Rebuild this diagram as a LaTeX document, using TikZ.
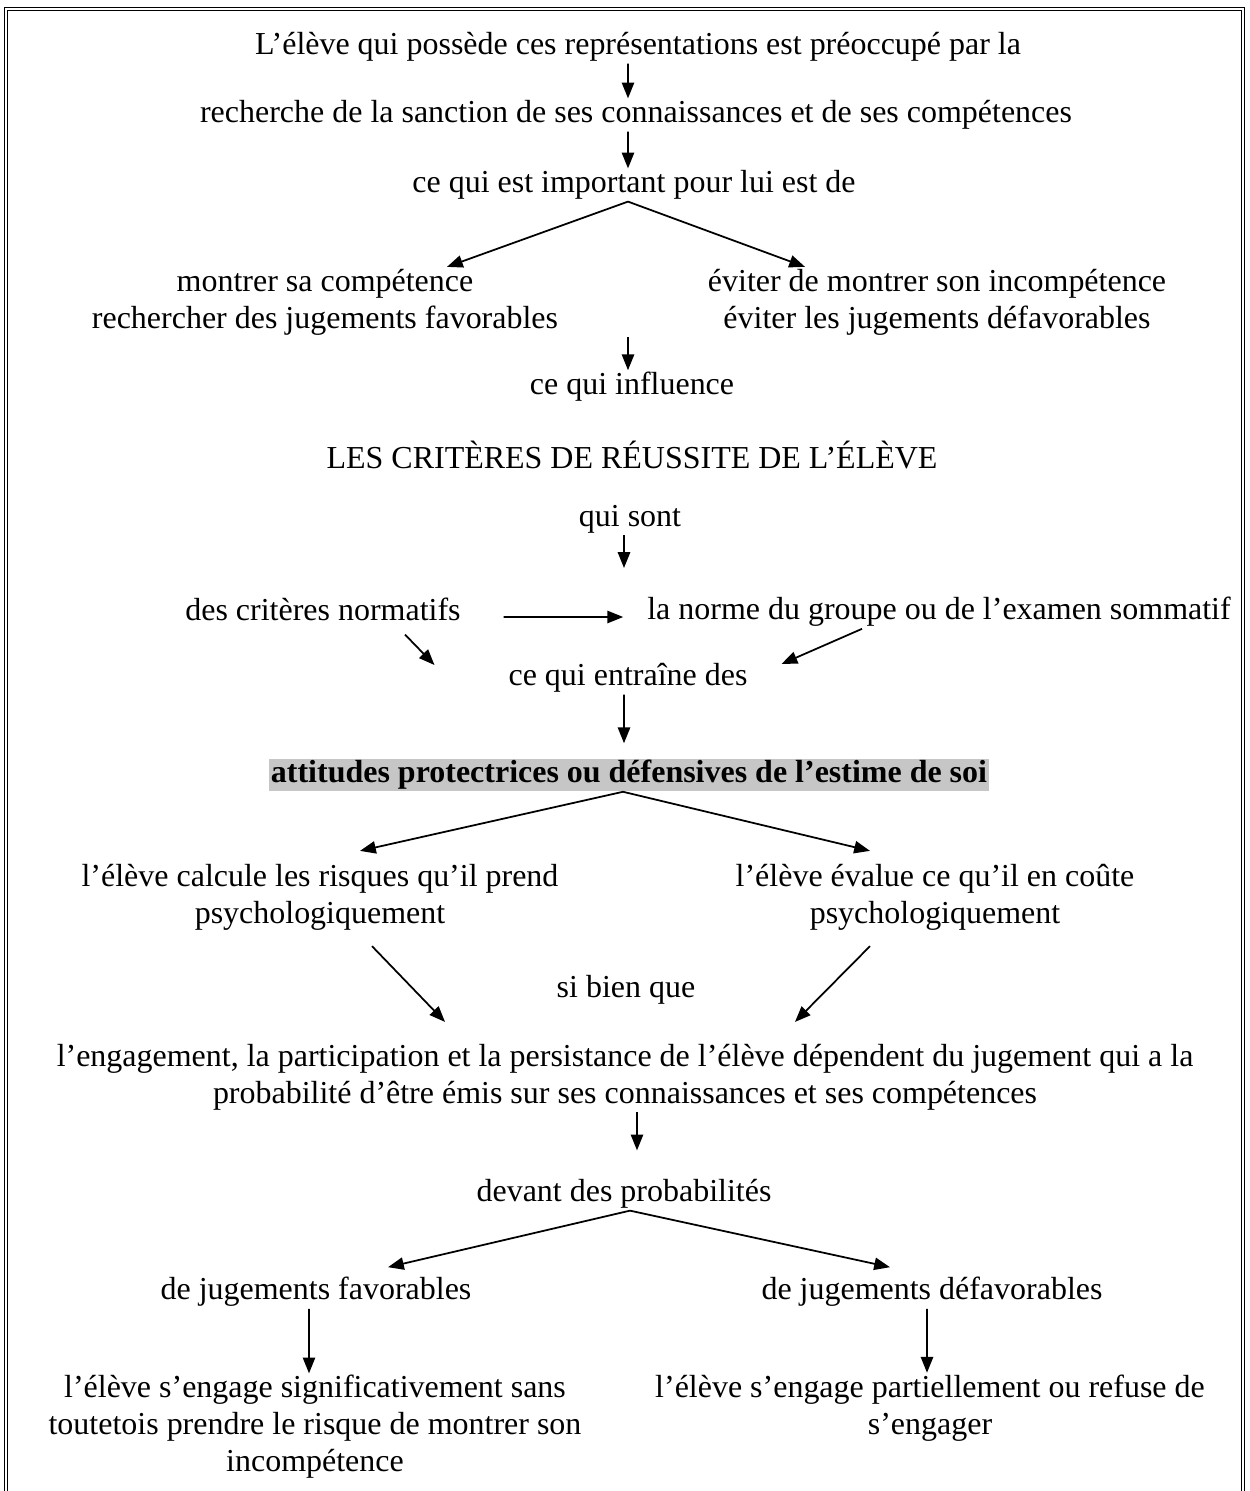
\documentclass[tikz,border=0pt]{standalone}
\usepackage{fontspec}
\setmainfont{Liberation Serif}
\usetikzlibrary{arrows.meta}

\begin{document}
\begin{tikzpicture}[x=0.02cm,y=-0.02cm,
    every node/.style={font=\fontsize{18.2}{21}\selectfont,align=center,inner sep=1pt},
    arr/.style={line width=1pt,-{Triangle[length=9pt,width=7pt]}}]
    \useasboundingbox (0,0) rectangle (1250,1491);
    \draw[line width=0.6pt,double,double distance=1.6pt] (6,1495) -- (6,9) -- (1243,9) -- (1243,1495);

    \node at (638,47)   (rep)  {L’élève qui possède ces représentations est préoccupé par la};
    \node at (636,115)  (sanc) {recherche de la sanction de ses connaissances et de ses compétences};
    \node at (634,185)  (imp)  {ce qui est important pour lui est de};
    \node at (325,302)  (comp) {montrer sa compétence\\rechercher des jugements favorables};
    \node at (937,302)  (evit) {éviter de montrer son incompétence\\éviter les jugements défavorables};
    \node at (632,387)  (infl) {ce qui influence};
    \node at (632,455)  (crit) {LES CRITÈRES DE RÉUSSITE DE L’ÉLÈVE};
    \node at (630,519)  (qs)   {qui sont};
    \node at (323,609)  (norm) {des critères normatifs};
    \node at (939,612)  (grp)  {la norme du groupe ou de l’examen sommatif};
    \node at (628,678)  (ent)  {ce qui entraîne des};
    \node[fill=gray!45,font=\fontsize{18.2}{21}\selectfont\bfseries] at (629,775) (att)
        {attitudes protectrices ou défensives de l’estime de soi};
    \node at (320,897)  (calc) {l’élève calcule les risques qu’il prend\\psychologiquement};
    \node at (935,897)  (eval) {l’élève évalue ce qu’il en coûte\\psychologiquement};
    \node at (626,990)  (sbq)  {si bien que};
    \node at (625,1077) (eng)  {l’engagement, la participation et la persistance de l’élève dépendent du jugement qui a la\\probabilité d’être émis sur ses connaissances et ses compétences};
    \node at (624,1194) (dev)  {devant des probabilités};
    \node at (316,1292) (fav)  {de jugements favorables};
    \node at (932,1292) (def)  {de jugements défavorables};
    \node at (315,1427) (sig)  {l’élève s’engage significativement sans\\toutetois prendre le risque de montrer son\\incompétence};
    \node at (930,1408) (part) {l’élève s’engage partiellement ou refuse de\\s’engager};
    \coordinate (qsEnd) at (624,568);

    \draw[arr] ([xshift=-0.2cm]rep.south) -- ([xshift=-0.16cm]sanc.north);
    \draw[arr] ([xshift=-0.16cm]sanc.south) -- ([xshift=-0.12cm]imp.north);
    \draw[arr] ([xshift=-0.12cm]imp.south) -- ([xshift=2.44cm]comp.north);
    \draw[arr] ([xshift=-0.12cm]imp.south) -- ([xshift=-2.64cm]evit.north);
    \draw[arr] ([xshift=-0.08cm]infl.north |- comp.south) -- ([xshift=-0.08cm]infl.north);
    \draw[arr] ([xshift=-0.12cm]qs.south) -- (qsEnd);
    \draw[arr,shorten <=0.82cm,shorten >=0.44cm] ([yshift=-0.16cm]norm.east) -- ([yshift=-0.1cm]grp.west);
    \draw[arr] ([xshift=1.64cm,yshift=-0.24cm]norm.south) -- ([xshift=-1.44cm,yshift=0.26cm]ent.west);
    \draw[arr] ([xshift=-1.54cm]grp.south) -- ([xshift=0.64cm,yshift=0.28cm]ent.east);
    \draw[arr,shorten >=0.3cm] ([xshift=-0.08cm]ent.south) -- ([xshift=-0.1cm]att.north);
    \draw[arr] ([xshift=-0.12cm]att.south) -- ([xshift=0.8cm,yshift=0.22cm]calc.north);
    \draw[arr] ([xshift=-0.12cm]att.south) -- ([xshift=-1.3cm,yshift=0.22cm]eval.north);
    \draw[arr] ([xshift=1.04cm,yshift=-0.28cm]calc.south) -- ([xshift=-3.6cm,yshift=0.4cm]eng.north);
    \draw[arr] ([xshift=-1.3cm,yshift=-0.28cm]eval.south) -- ([xshift=3.4cm,yshift=0.4cm]eng.north);
    \draw[arr,shorten >=0.54cm] ([xshift=0.24cm]eng.south) -- ([xshift=0.26cm]dev.north);
    \draw[arr] ([xshift=0.12cm]dev.south) -- ([xshift=1.44cm,yshift=0.16cm]fav.north);
    \draw[arr] ([xshift=0.12cm]dev.south) -- ([xshift=-0.84cm,yshift=0.16cm]def.north);
    \draw[arr] ([xshift=-0.14cm]fav.south) -- ([xshift=-0.12cm]sig.north);
    \draw[arr] ([xshift=-0.1cm]def.south) -- ([xshift=-0.06cm]part.north);
\end{tikzpicture}
\end{document}
